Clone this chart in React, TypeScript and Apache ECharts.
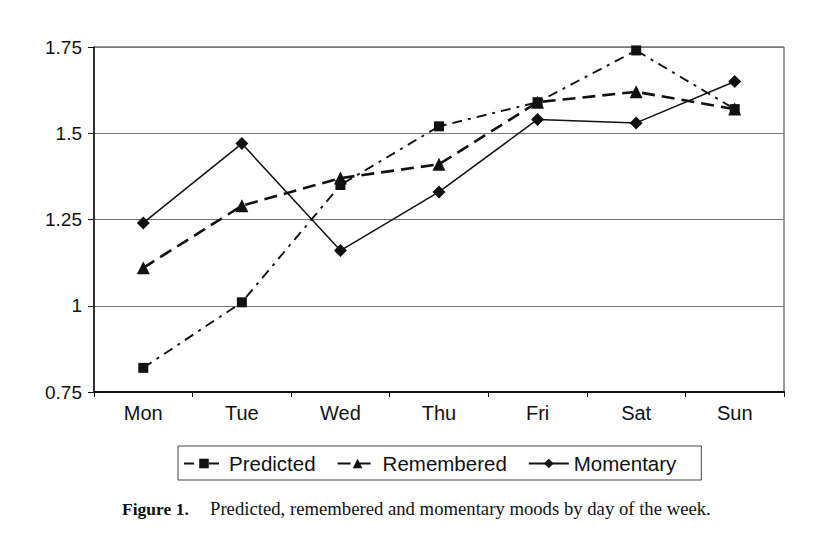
import React, { useEffect, useRef } from "react";
import * as echarts from "echarts";

const days = ["Mon", "Tue", "Wed", "Thu", "Fri", "Sat", "Sun"];
const predicted = [0.82, 1.01, 1.35, 1.52, 1.59, 1.74, 1.57];
const remembered = [1.11, 1.29, 1.37, 1.41, 1.59, 1.62, 1.57];
const momentary = [1.24, 1.47, 1.16, 1.33, 1.54, 1.53, 1.65];
const captionLabel = "Figure 1.";
const captionText = "Predicted, remembered and momentary moods by day of the week.";

export default function App() {
  const ref = useRef<HTMLDivElement>(null);
  useEffect(() => {
    if (!ref.current) return;
    const chart = echarts.init(ref.current, null, { renderer: "svg" });
    const sans = "Liberation Sans";
    chart.setOption({
      animation: false,
      backgroundColor: "#fff",
      grid: {
        left: 94,
        right: 46,
        top: 47,
        bottom: 150,
        show: true,
        borderColor: "#333",
        borderWidth: 1,
      },
      legend: {
        left: 178,
        top: 446,
        itemWidth: 40,
        itemHeight: 12,
        itemGap: 21,
        padding: [7, 25, 6, 5],
        borderColor: "#444",
        borderWidth: 1,
        textStyle: { fontFamily: sans, fontSize: 20.5, color: "#111" },
        data: ["Predicted", "Remembered", "Momentary"],
      },
      xAxis: {
        type: "category",
        data: days,
        boundaryGap: true,
        axisLine: { lineStyle: { color: "#111", width: 2 } },
        axisTick: { show: true, length: 5, lineStyle: { color: "#111" } },
        axisLabel: { fontFamily: sans, fontSize: 20, color: "#111", margin: 11 },
      },
      yAxis: {
        type: "value",
        min: 0.75,
        max: 1.75,
        interval: 0.25,
        axisLine: { show: true, lineStyle: { color: "#111", width: 1.5 } },
        axisTick: { show: true, length: 6, lineStyle: { color: "#111" } },
        axisLabel: { fontFamily: sans, fontSize: 19, color: "#111", margin: 12 },
        splitLine: { show: true, lineStyle: { color: "#777", width: 1 } },
      },
      series: [
        {
          name: "Predicted",
          type: "line",
          data: predicted,
          symbol: "rect",
          symbolSize: 10,
          itemStyle: { color: "#111" },
          lineStyle: { color: "#111", width: 1.9, type: [10, 6, 3, 6] },
        },
        {
          name: "Remembered",
          type: "line",
          data: remembered,
          symbol: "triangle",
          symbolSize: 13,
          itemStyle: { color: "#111" },
          lineStyle: { color: "#111", width: 2.6, type: [13, 7] },
        },
        {
          name: "Momentary",
          type: "line",
          data: momentary,
          symbol: "diamond",
          symbolSize: 13,
          itemStyle: { color: "#111" },
          lineStyle: { color: "#111", width: 1.5, type: "solid" },
        },
      ],
      graphic: [
        {
          type: "text",
          left: 122,
          top: 500,
          style: {
            text: captionLabel,
            font: "bold 17.5px 'Liberation Serif'",
            fill: "#111",
          },
        },
        {
          type: "text",
          left: 210,
          top: 499,
          style: {
            text: captionText,
            font: "18.7px 'Liberation Serif'",
            fill: "#111",
          },
        },
      ],
    });
    return () => chart.dispose();
  }, []);
  return (
    <div
      ref={ref}
      style={{ position: "fixed", left: 0, top: 0, width: 830, height: 542 }}
    />
  );
}
